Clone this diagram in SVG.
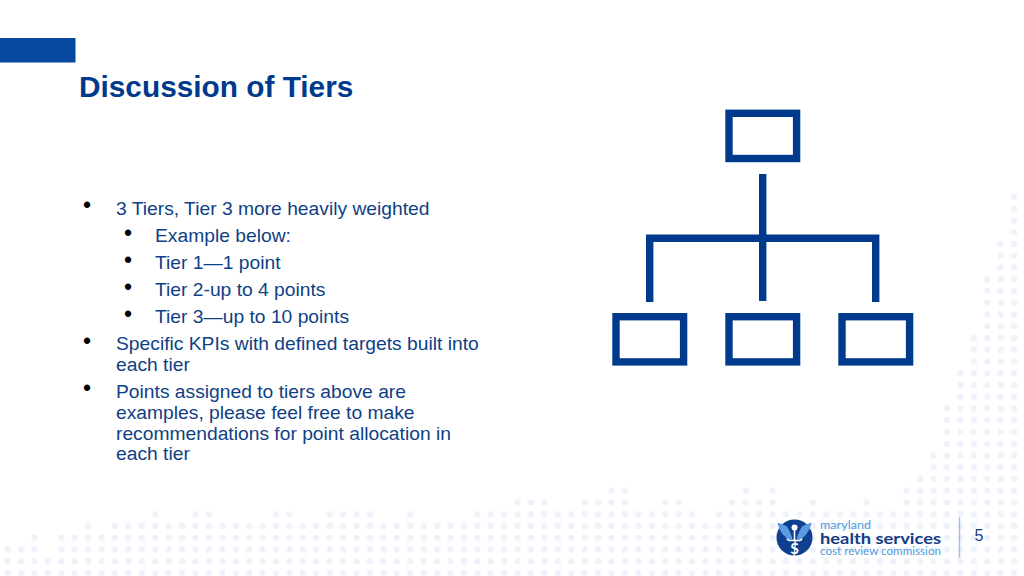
<svg xmlns="http://www.w3.org/2000/svg" width="1024" height="576" viewBox="0 0 1024 576">
<style>
.body{font-family:"Liberation Sans",Arial,sans-serif;font-size:19.25px;fill:#0f3f85}
.bul{font-family:"Liberation Sans",Arial,sans-serif;font-size:23px;fill:#000}
.title{font-family:"Liberation Sans",Arial,sans-serif;font-size:29.8px;font-weight:bold;fill:#003a8c}
.logo{font-family:Lato,"Liberation Sans",sans-serif}
.box{fill:#fff;stroke:#003a8c;stroke-width:7.4}
.wire{fill:none;stroke:#003a8c;stroke-width:7.4}
</style>
<defs>
<pattern id="dots" patternUnits="userSpaceOnUse" x="0.9" y="567.125" width="13.42" height="11.75">
<circle cx="6.71" cy="5.875" r="3.2" fill="#eef2fb"/>
</pattern>
</defs>
<rect width="1024" height="576" fill="#fff"/>
<g id="dot-field" fill="url(#dots)">
<rect x="1007" y="191" width="14" height="48"/>
<rect x="994" y="238" width="27" height="36"/>
<rect x="981" y="273" width="40" height="59"/>
<rect x="967" y="332" width="54" height="36"/>
<rect x="954" y="367" width="67" height="36"/>
<rect x="940" y="403" width="81" height="47"/>
<rect x="927" y="450" width="94" height="23"/>
<rect x="914" y="473" width="107" height="12"/>
<rect x="900" y="485" width="121" height="12"/>
<rect x="605" y="485" width="27" height="12"/>
<rect x="740" y="485" width="13" height="12"/>
<rect x="766" y="485" width="13" height="12"/>
<rect x="511" y="497" width="40" height="11"/>
<rect x="578" y="497" width="54" height="11"/>
<rect x="659" y="497" width="26" height="11"/>
<rect x="726" y="497" width="53" height="11"/>
<rect x="806" y="497" width="14" height="11"/>
<rect x="860" y="497" width="14" height="11"/>
<rect x="900" y="497" width="121" height="11"/>
<rect x="148" y="508" width="14" height="12"/>
<rect x="189" y="508" width="26" height="12"/>
<rect x="270" y="508" width="26" height="12"/>
<rect x="323" y="508" width="54" height="12"/>
<rect x="404" y="508" width="13" height="12"/>
<rect x="471" y="508" width="228" height="12"/>
<rect x="712" y="508" width="309" height="12"/>
<rect x="81" y="520" width="14" height="12"/>
<rect x="108" y="520" width="913" height="12"/>
<rect x="27" y="532" width="14" height="12"/>
<rect x="54" y="532" width="967" height="12"/>
<rect x="1" y="544" width="40" height="12"/>
<rect x="54" y="544" width="967" height="12"/>
<rect x="1" y="555" width="1020" height="21"/>
</g>
<g id="header">
<rect x="0" y="38" width="75.5" height="24.5" fill="#0648a0"/>
<text class="title" x="79" y="97">Discussion of Tiers</text>
</g>
<g id="bullets">
<text class="bul" x="83" y="212.5">•</text>
<text class="body" x="116" y="215">3 Tiers, Tier 3 more heavily weighted</text>
<text class="bul" x="124" y="240.5">•</text>
<text class="body" x="155" y="242">Example below:</text>
<text class="bul" x="124" y="267.5">•</text>
<text class="body" x="155" y="269">Tier 1—1 point</text>
<text class="bul" x="124" y="294.5">•</text>
<text class="body" x="155" y="296">Tier 2-up to 4 points</text>
<text class="bul" x="124" y="321.5">•</text>
<text class="body" x="155" y="323">Tier 3—up to 10 points</text>
<text class="bul" x="83" y="348.5">•</text>
<text class="body" x="116" y="350">Specific KPIs with defined targets built into</text>
<text class="body" x="116" y="371">each tier</text>
<text class="bul" x="83" y="395.5">•</text>
<text class="body" x="116" y="398">Points assigned to tiers above are</text>
<text class="body" x="116" y="419">examples, please feel free to make</text>
<text class="body" x="116" y="440">recommendations for point allocation in</text>
<text class="body" x="116" y="460">each tier</text>
</g>
<g id="connectors">
<path class="wire" d="M762.7 174V301"/>
<path class="wire" d="M649.7 302V238.2H875.7V302"/>
</g>
<g id="node-top"><rect class="box" x="729" y="113.3" width="67.6" height="45.2"/></g>
<g id="node-left"><rect class="box" x="616" y="316.7" width="67.6" height="45.2"/></g>
<g id="node-middle"><rect class="box" x="729" y="316.7" width="67.6" height="45.2"/></g>
<g id="node-right"><rect class="box" x="842" y="316.7" width="67.6" height="45.2"/></g>
<g id="logo">
<circle cx="794.5" cy="537.5" r="18" fill="#0f3f8f"/>
<path d="M777.500 522.500L783 524.500L787 526.500L789 530L792 537V540.500C785 539 779 531 777.500 522.500ZM811.500 522.500L806 524.500L802 526.500L800 530L797 537V540.500C804 539 810 531 811.500 522.500Z" fill="#5a9be2"/>
<circle cx="794.500" cy="527.500" r="3" fill="#fff"/>
<path d="M793.700 530H795.300V542H793.700Z" fill="#fff"/>
<path d="M787 538.500C788 541.500 791 541 794.500 540C798 541 801 541.500 802 538.500" fill="none" stroke="#fff" stroke-width="1.400"/>
<text class="logo" x="794.500" y="554" font-size="15" font-weight="bold" fill="#fff" text-anchor="middle">$</text>
<text class="logo" x="820" y="528.500" font-size="11.500" fill="#4f9ae0" textLength="51" lengthAdjust="spacingAndGlyphs">maryland</text>
<text class="logo" x="820" y="544" font-size="16" font-weight="bold" fill="#143c84" textLength="121" lengthAdjust="spacingAndGlyphs">health services</text>
<text class="logo" x="820" y="555" font-size="10.500" fill="#4f9ae0" textLength="121" lengthAdjust="spacingAndGlyphs">cost review commission</text>
</g>
<g id="page-number">
<path d="M959.500 517V558" stroke="#9cc4ec" stroke-width="1.500" fill="none"/>
<text x="979" y="541" font-family="Liberation Sans, Arial, sans-serif" font-size="16" fill="#143c84" text-anchor="middle">5</text>
</g>
</svg>
